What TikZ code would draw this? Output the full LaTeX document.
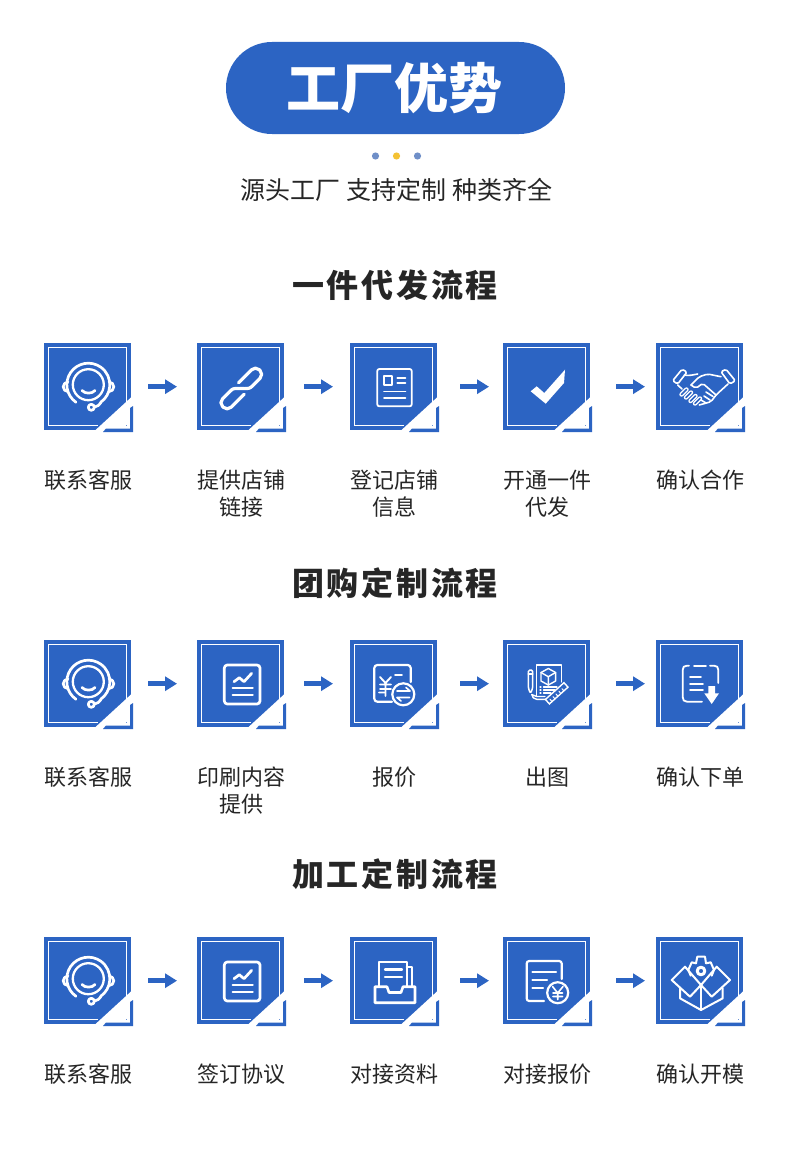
\documentclass[tikz,border=0pt]{standalone}
\usepackage{fontspec}
\usetikzlibrary{arrows.meta}
\newfontfamily\cjk{Noto Sans CJK SC}
\newfontfamily\cjkh[LetterSpace=8.5]{Noto Sans CJK SC}
\definecolor{brandblue}{HTML}{2C64C3}
\definecolor{dotblue}{HTML}{6F8FC8}
\definecolor{dotyellow}{HTML}{F4C233}
\definecolor{inkdark}{HTML}{262626}
\tikzset{
  stepbox/.style={fill=brandblue,minimum size=87pt,inner sep=0pt,anchor=north west},
  steplabel/.style={text=inkdark,font=\cjk\fontsize{22}{27}\selectfont,align=center,anchor=north,inner sep=0pt},
  headline/.style={text=inkdark,font=\cjkh\bfseries\fontsize{32}{32}\selectfont,inner sep=0pt},
  flowarrow/.style={draw=brandblue,line width=5pt,-{Triangle[length=12pt,width=14pt]}},
  ic/.style={draw=white,line width=2.7pt,line cap=round,line join=round},
  ict/.style={draw=white,line width=1.4pt,line cap=round,line join=round},
}
\newcommand{\iconHeadset}{
  \draw[ic] (32,59.3) arc[start angle=125,end angle=415,radius=21.5];
  \draw[ic,line width=2.3pt] (44.3,41.7) circle[radius=15.5];
  \draw[ic] (24,39) arc[start angle=270,end angle=90,radius=4.8];
  \draw[ic] (65,39) arc[start angle=-90,end angle=90,radius=4.8];
  \draw[ic] (38,47.5) .. controls (41,51) and (48,51) .. (51,47.5);
  \draw[ic] (47.3,64.3) circle[radius=3];
  \draw[ic] (50.5,64) .. controls (53,63.5) and (56,62) .. (57,59.5);
}
\newcommand{\iconLink}{
  \begin{scope}[shift={(44.3,45.5)},rotate=45]
    \draw[ic,line width=3.2pt,rounded corners=5.5pt] (2,-6) -- (26,-6) -- (26,6) -- (8,6);
    \draw[ic,line width=3.2pt,rounded corners=5.5pt] (-2,6) -- (-26,6) -- (-26,-6) -- (-8,-6);
    \draw[ic,line width=3.2pt] (-8,-6) .. controls (-3,-6) and (3,6) .. (8,6);
  \end{scope}
}
\newcommand{\iconForm}{
  \draw[ict,line width=1.8pt,rounded corners=2pt] (27.3,26) rectangle (61.7,63.3);
  \draw[ict,line width=1.8pt] (34,33.3) rectangle (41.7,41.7);
  \draw[ict,line width=1.8pt] (47.3,35) -- (55.5,35) (47.3,40) -- (55.5,40) (34,48.5) -- (55.5,48.5) (34,55) -- (55.5,55);
}
\newcommand{\iconCheck}{
  \fill[white] (27.7,48.3) -- (33.7,43.3) -- (41.3,50) -- (62,26.7) -- (61,40) -- (42.7,60.7) -- cycle;
}
\newcommand{\iconShake}{
  \draw[ict,line width=1.6pt,rounded corners=1.5pt] (16.7,37.7) -- (26,26.3) -- (31,29) -- (21.7,41) -- cycle;
  \draw[ict,line width=1.6pt,rounded corners=1.5pt] (65,28.7) -- (70,26.3) -- (79.3,37.7) -- (74,41) -- cycle;
  \draw[ict,line width=1.6pt] (28.3,32) .. controls (33,33) and (36,32) .. (41.7,31);
  \draw[ict,line width=1.6pt,rounded corners=2pt] (35,42) -- (43.3,33.7) -- (51.7,31) -- (65,33.7);
  \draw[ict,line width=1.6pt,rounded corners=2pt] (35,42) -- (40,45.3) -- (46.7,40.3) -- (60,52);
  \draw[ict,line width=1.6pt,rounded corners=2pt] (72,41) -- (60,52) -- (55,58.7) -- (43.3,62);
  \draw[ict,line width=1.6pt] (21.7,42) -- (26,46);
  \foreach \cx/\cy in {28/49,32.5/52,37/55.5,41.5/58}{
    \draw[white,line width=4.4pt,line cap=round] (\cx-2.5,\cy+2.5) -- (\cx+2.5,\cy-2.5);
    \draw[brandblue,line width=1.6pt,line cap=round] (\cx-2.5,\cy+2.5) -- (\cx+2.5,\cy-2.5);
  }
  \draw[ict,line width=1.6pt] (50,49) -- (57,53.5) (48,53) -- (54,57) (45,57) -- (50,60);
}
\newcommand{\iconChart}{
  \draw[ic,rounded corners=3pt] (27.3,25) rectangle (63,64);
  \draw[ic] (37,41.7) -- (42.3,37.7) -- (47,41.7) -- (54.7,33.3);
  \draw[ic,line width=2.2pt] (35.7,48.3) -- (55.7,48.3) (35.7,55) -- (55.7,55);
}
\newcommand{\iconQuote}{
  \draw[ic,line width=2.2pt,rounded corners=3pt] (42,61.7) -- (24.3,61.7) -- (24.3,25) -- (60.7,25) -- (60.7,42);
  \draw[ic,line width=2.2pt] (53.3,54.3) circle[radius=11];
  \draw[ic,line width=1.9pt] (30,37) -- (35.5,43) -- (41,37) (35.5,43) -- (35.5,56) (30,44.5) -- (41,44.5) (30,49) -- (41,49)
     (45,35) -- (52,35) (29,52.5) -- (34,52.5);
  \draw[ict,line width=1.6pt] (47,51) -- (60,51) (60,51) -- (56,47.5) (59.5,57.5) -- (47,57.5) (47,57.5) -- (51,61);
}
\newcommand{\iconDraft}{
  \draw[ict,line width=1.5pt,rounded corners=1.5pt] (25.3,48) -- (25.3,30) -- (29.7,30) -- (29.7,48) -- (27.5,53.5) -- cycle;
  \draw[ict,line width=1.5pt] (25.3,34) -- (29.7,34);
  \draw[ict] (33.7,56) -- (33.7,25) -- (58.7,25) -- (58.7,42);
  \draw[ict] (38,32.5) -- (45.3,28.5) -- (52.6,32.5) -- (52.6,41) -- (45.3,45) -- (38,41) -- cycle;
  \draw[ict] (38,32.5) -- (45.3,36.7) -- (52.6,32.5) (45.3,36.7) -- (45.3,45);
  \draw[ict,line width=1.2pt] (37,47) -- (38,47) (40.5,47) -- (54,47) (37,50) -- (38,50) (40.5,50) -- (52,50) (37,53) -- (38,53) (40.5,53) -- (48,53);
  \draw[ict] (43,59.3) -- (33.7,59.3) .. controls (31,59.3) and (29,57) .. (28.7,54.5) -- (33.7,56.5) -- (42,56.5);
  \begin{scope}[shift={(53.7,53.3)},rotate=42]
    \draw[white,line width=1.4pt,fill=brandblue] (-12.5,-3) rectangle (12.5,3);
    \draw[ict,line width=1pt] (-9,3) -- (-9,0) (-5,3) -- (-5,0) (-1,3) -- (-1,0) (3,3) -- (3,0) (7,3) -- (7,0);
  \end{scope}
}
\newcommand{\iconDown}{
  \draw[ic,line width=1.8pt] (33,25.7) -- (31,25.7) .. controls (28,25.7) and (26.7,27) .. (26.7,30) -- (26.7,57) .. controls (26.7,60) and (28,61.7) .. (31,61.7) -- (46,61.7);
  \draw[ic,line width=1.8pt] (38,25.7) -- (50,25.7);
  \draw[ic,line width=1.8pt] (54,25.7) -- (58,25.7) .. controls (61,25.7) and (62.3,27) .. (62.3,30) -- (62.3,43);
  \draw[ic,line width=1.8pt] (34,37.3) -- (45,37.3) (34,43.7) -- (47,43.7) (34,50.3) -- (47,50.3);
  \fill[white] (52.3,46) -- (59,46) -- (59,53.3) -- (63,53.3) -- (55.7,64) -- (48.3,53.3) -- (52.3,53.3) -- cycle;
}
\newcommand{\iconInbox}{
  \draw[ic,line width=2.3pt] (29,49.7) -- (29,24.7) -- (56.7,24.7) -- (56.7,49.7);
  \draw[ic,line width=2.2pt] (56.7,30) -- (62,30) -- (62,49.7);
  \draw[ic,line width=2.3pt] (35,32.5) -- (52,32.5) (35,40) -- (52,40);
  \draw[ic,line width=2.6pt] (37,49.7) -- (25,49.7) -- (25,65.7) -- (65,65.7) -- (65,49.7) -- (53,49.7) -- (51,55.5) -- (39,55.5) -- (37,49.7);
}
\newcommand{\iconYen}{
  \draw[ic,line width=2.2pt,rounded corners=2.5pt] (41,64) -- (23.7,64) -- (23.7,24) -- (58.7,24) -- (58.7,42);
  \draw[ic,line width=2.2pt] (29.5,34.7) -- (53,34.7) (29.5,43) -- (44,43) (29.5,51.3) -- (40,51.3);
  \draw[ic,line width=2.2pt] (54.7,55.7) circle[radius=10.5];
  \draw[ict,line width=1.6pt] (49.5,49.5) -- (54.7,56) -- (60,49.5) (54.7,56) -- (54.7,62.5) (50,56) -- (59.5,56) (50,59.5) -- (59.5,59.5);
}
\newcommand{\iconGear}{
  \draw[ict,line width=2pt] (15.7,43) -- (29,29.7) -- (45,48) -- (34,59.7) -- cycle;
  \draw[ict,line width=2pt] (74,43) -- (60.7,29.7) -- (45,48) -- (55.7,59.7) -- cycle;
  \draw[ict,line width=2pt] (24,51.3) -- (24,61.3) -- (45,73) -- (66.7,61.3) -- (66.7,51.3);
  \draw[ict,line width=2pt] (45,48) -- (45,73);
  \draw[ict,line width=3pt] (45,34) circle[radius=3.8];
  \draw[ict,line width=2pt] (34.7,38.7) -- (32.3,33) -- (35.7,25.3) -- (40,26.3) -- (41.3,19.7) -- (49,19.7) -- (50,26.3) -- (54.7,25.3) -- (58,33) -- (55.7,38.7);
}
\newcommand{\flowstep}[6]{% name, x, y, icon, label, (unused extra)
  \node[stepbox] (#1) at (#2,#3) {};
  \begin{scope}[shift={(#2,#3)}]
    \draw[white,line width=1pt] (54,82.7) -- (4.5,82.7) -- (4.5,4) -- (82.5,4) -- (82.5,60);
    \fill[white] (51,87.5) -- (87.5,54) -- (90,54) -- (90,90) -- (49,90) -- cycle;
    \fill[brandblue] (62,85.5) -- (86,85.5) -- (86,65) -- (89,63) -- (89,89) -- (59,89) -- cycle;
    \fill[brandblue!70!white] (81.7,81.7) rectangle (82.5,83);
    #4
  \end{scope}
  \node[steplabel] (#1t) at (#2+44.5,#3+127) {#5};
}
\newcommand{\flowlink}[4]{\draw[flowarrow] ([xshift=#3pt]#1.east) -- ([xshift=-#4pt]#2.west);}
\begin{document}
\begin{tikzpicture}[x=1pt,y=-1pt]
\useasboundingbox (0,0) rectangle (790,1153);
\fill[white] (0,0) rectangle (790,1153);
\node[fill=brandblue,minimum width=339pt,minimum height=92pt,rounded corners=46pt,inner sep=0pt] (pill) at (395.5,88) {};
\node[text=white,font=\cjk\bfseries\fontsize{54}{54}\selectfont,inner sep=0pt] (title) at (394.5,88) {工厂优势};
\fill[dotblue] (375.5,156) circle[radius=3.6];
\fill[dotyellow] (396.5,156) circle[radius=3.6];
\fill[dotblue] (417.5,156) circle[radius=3.6];
\node[text=inkdark,font=\cjk\fontsize{25}{25}\selectfont,inner sep=0pt] (sub) at (396.5,189.5) {源头工厂 支持定制 种类齐全};

\node[headline] (h1) at (395,285) {一件代发流程};
\flowstep{a1}{44}{343}{\iconHeadset}{联系客服}{}
\flowstep{a2}{197}{343}{\iconLink}{提供店铺\\链接}{}
\flowstep{a3}{350}{343}{\iconForm}{登记店铺\\信息}{}
\flowstep{a4}{503}{343}{\iconCheck}{开通一件\\代发}{}
\flowstep{a5}{656}{343}{\iconShake}{确认合作}{}
\flowlink{a1}{a2}{17}{20}\flowlink{a2}{a3}{20}{17}\flowlink{a3}{a4}{23}{14}\flowlink{a4}{a5}{26}{11}

\node[headline] (h2) at (395,583) {团购定制流程};
\flowstep{b1}{44}{640}{\iconHeadset}{联系客服}{}
\flowstep{b2}{197}{640}{\iconChart}{印刷内容\\提供}{}
\flowstep{b3}{350}{640}{\iconQuote}{报价}{}
\flowstep{b4}{503}{640}{\iconDraft}{出图}{}
\flowstep{b5}{656}{640}{\iconDown}{确认下单}{}
\flowlink{b1}{b2}{17}{20}\flowlink{b2}{b3}{20}{17}\flowlink{b3}{b4}{23}{14}\flowlink{b4}{b5}{26}{11}

\node[headline] (h3) at (395,874) {加工定制流程};
\flowstep{c1}{44}{937}{\iconHeadset}{联系客服}{}
\flowstep{c2}{197}{937}{\iconChart}{签订协议}{}
\flowstep{c3}{350}{937}{\iconInbox}{对接资料}{}
\flowstep{c4}{503}{937}{\iconYen}{对接报价}{}
\flowstep{c5}{656}{937}{\iconGear}{确认开模}{}
\flowlink{c1}{c2}{17}{20}\flowlink{c2}{c3}{20}{17}\flowlink{c3}{c4}{23}{14}\flowlink{c4}{c5}{26}{11}
\end{tikzpicture}
\end{document}
